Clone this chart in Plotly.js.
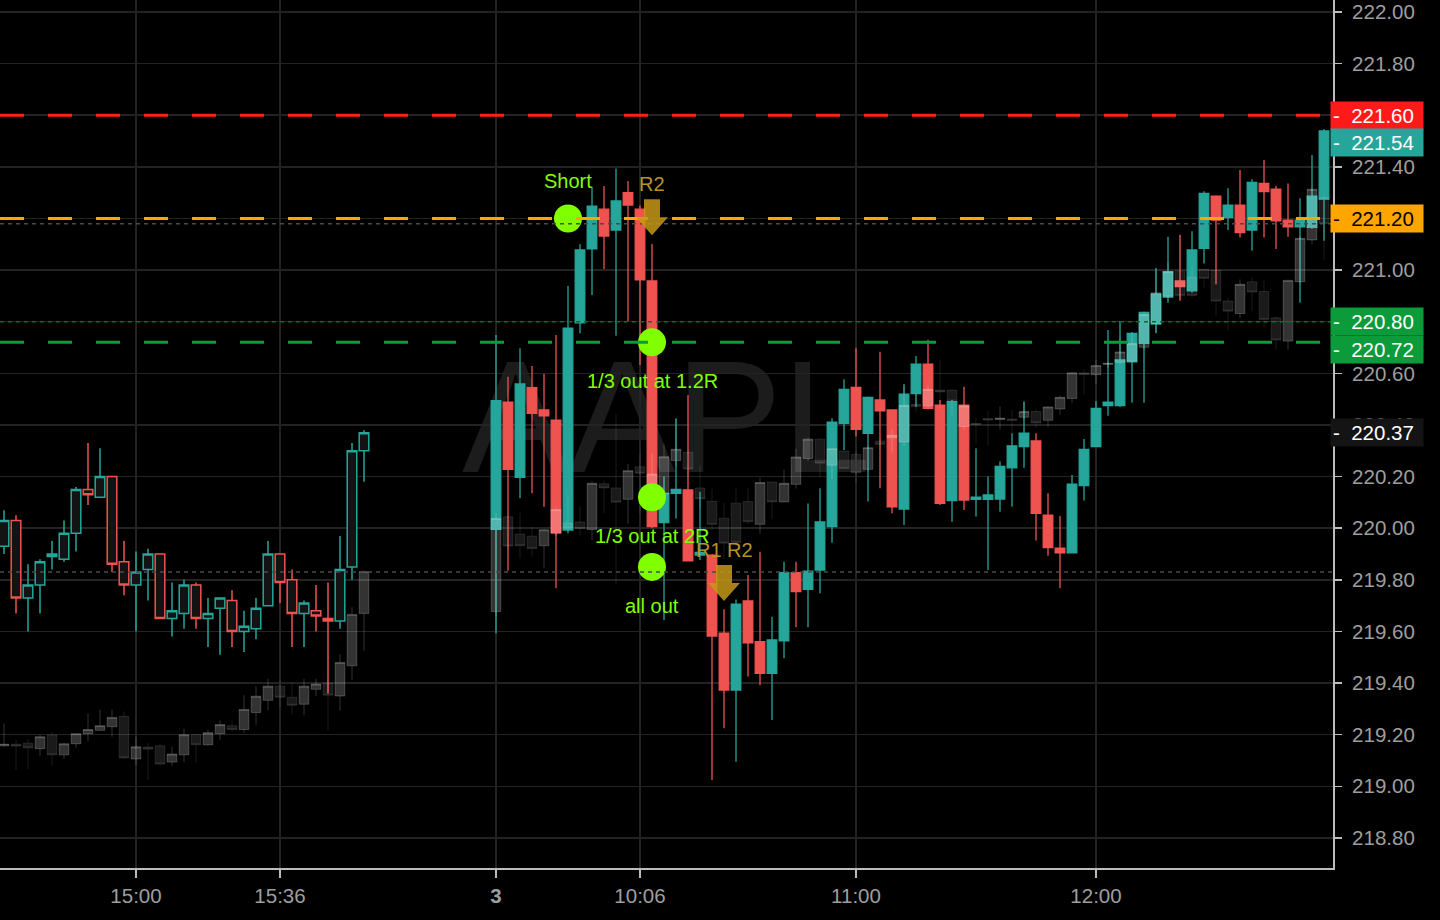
<!DOCTYPE html>
<html><head><meta charset="utf-8">
<script src="https://cdn.plot.ly/plotly-3.0.1.min.js"></script>
<style>html,body{margin:0;padding:0;background:#000;}#chart{width:1440px;height:920px;}</style>
</head><body><div id="chart"></div>
<script>
// ---------- DATA ----------
const symbol = 'AAPL';
// previous session (hollow candles)
const prevTimes = ['14:27','14:30','14:33','14:36','14:39','14:42','14:45','14:48','14:51','14:54','14:57','15:00','15:03','15:06','15:09','15:12','15:15','15:18','15:21','15:24','15:27','15:30','15:33','15:36','15:39','15:42','15:45','15:48','15:51','15:54','15:57'];
const prevOpen  = [219.93,220.03,219.73,219.78,219.89,219.88,219.98,220.15,220.12,220.20,219.87,219.78,219.84,219.90,219.65,219.67,219.78,219.65,219.69,219.72,219.60,219.61,219.70,219.90,219.80,219.67,219.68,219.65,219.64,219.85,220.30];
const prevHigh  = [220.07,220.05,219.86,219.88,219.95,220.03,220.16,220.33,220.31,220.20,219.95,219.91,219.92,219.90,219.79,219.80,219.79,219.73,219.73,219.76,219.68,219.73,219.95,219.90,219.84,219.72,219.78,219.79,219.97,220.33,220.38];
const prevLow   = [219.90,219.67,219.60,219.67,219.84,219.87,219.91,220.09,220.12,219.83,219.74,219.60,219.72,219.65,219.58,219.61,219.61,219.54,219.51,219.54,219.52,219.57,219.70,219.71,219.54,219.54,219.60,219.36,219.61,219.80,220.18];
const prevClose = [220.03,219.73,219.78,219.87,219.90,219.98,220.15,220.13,220.20,219.86,219.78,219.83,219.90,219.65,219.68,219.78,219.65,219.67,219.73,219.60,219.62,219.69,219.90,219.79,219.67,219.71,219.66,219.64,219.84,220.30,220.37];

// current session (filled candles)
const curTimes = ['9:30','9:33','9:36','9:39','9:42','9:45','9:48','9:51','9:54','9:57','10:00','10:03','10:06','10:09','10:12','10:15','10:18','10:21','10:24','10:27','10:30','10:33','10:36','10:39','10:42','10:45','10:48','10:51','10:54','10:57','11:00','11:03','11:06','11:09','11:12','11:15','11:18','11:21','11:24','11:27','11:30','11:33','11:36','11:39','11:42','11:45','11:48','11:51','11:54','11:57','12:00','12:03','12:06','12:09','12:12','12:15','12:18','12:21','12:24','12:27','12:30','12:33','12:36','12:39','12:42','12:45','12:48','12:51','12:54','12:57'];
const curOpen  = [219.996,220.488,220.197,220.545,220.458,220.419,219.993,220.796,221.082,221.236,221.155,221.300,221.236,220.958,220.022,220.135,220.148,219.896,219.896,219.593,219.373,219.718,219.560,219.438,219.564,219.828,219.763,219.838,220.006,220.406,220.546,220.368,220.497,220.458,220.074,220.522,220.636,220.477,220.107,220.477,220.112,220.112,220.113,220.234,220.316,220.338,220.051,219.923,219.905,220.165,220.316,220.475,220.475,220.645,220.716,220.791,220.895,220.958,220.920,221.084,221.287,221.203,221.252,221.155,221.336,221.314,221.194,221.168,221.166,221.275];
const curHigh  = [220.749,220.587,220.697,220.628,220.597,220.749,220.938,221.100,221.323,221.326,221.394,221.345,221.250,221.101,220.201,220.426,220.516,220.141,219.900,219.686,219.724,219.819,219.909,219.657,219.870,219.870,220.096,220.155,220.426,220.577,220.697,220.510,220.684,220.460,220.559,220.667,220.730,220.497,220.497,220.548,220.310,220.200,220.258,220.368,220.490,220.368,220.135,220.047,220.206,220.346,220.493,220.768,220.803,220.760,220.840,221.007,221.129,221.136,221.151,221.306,221.290,221.317,221.388,221.352,221.427,221.326,221.336,221.278,221.446,221.547];
const curLow   = [219.593,219.835,220.116,220.135,220.083,219.767,219.980,220.755,220.904,221.004,220.746,220.803,220.632,220.000,219.644,220.038,219.874,219.877,219.024,219.225,219.095,219.425,219.392,219.257,219.496,219.616,219.616,219.748,219.944,220.303,220.355,220.103,220.155,220.058,220.012,220.471,220.460,220.090,220.025,220.071,220.045,219.838,220.064,220.083,220.234,219.952,219.893,219.767,219.905,220.107,220.316,220.436,220.470,220.486,220.486,220.755,220.874,220.881,220.912,221.026,220.945,221.155,221.126,221.075,221.126,221.082,221.129,220.874,221.160,221.114];
const curClose = [220.494,220.228,220.559,220.445,220.435,219.983,220.775,221.078,221.248,221.132,221.268,221.252,220.962,220.006,220.135,220.150,219.874,219.906,219.582,219.373,219.706,219.556,219.438,219.567,219.828,219.754,219.834,220.024,220.411,220.538,220.383,220.507,220.455,220.083,220.519,220.636,220.464,220.096,220.490,220.109,220.120,220.129,220.239,220.319,220.368,220.058,219.925,219.905,220.171,220.305,220.464,220.488,220.652,220.755,220.836,220.907,220.994,220.936,221.078,221.297,221.194,221.252,221.145,221.340,221.304,221.191,221.168,221.194,221.287,221.539];

// grey overlay series, previous session then current session
const ghostPrevOpen  = [219.157,219.163,219.167,219.146,219.199,219.122,219.165,219.204,219.217,219.231,219.271,219.106,219.152,219.157,219.094,219.122,219.200,219.161,219.204,219.235,219.220,219.286,219.333,219.388,219.345,219.318,219.376,219.400,219.350,219.467,219.670];
const ghostPrevHigh  = [219.243,219.180,219.184,219.199,219.210,219.169,219.205,219.282,219.298,219.298,219.290,219.192,219.169,219.163,219.153,219.224,219.200,219.220,219.255,219.255,219.353,219.388,219.416,219.412,219.400,219.416,219.416,219.412,219.511,219.694,219.836];
const ghostPrevLow   = [219.152,219.063,219.067,219.118,219.080,219.106,219.150,219.176,219.217,219.192,219.106,219.082,219.024,219.078,219.078,219.094,219.090,219.157,219.180,219.212,219.208,219.239,219.294,219.306,219.278,219.275,219.349,219.216,219.293,219.412,219.525];
const ghostPrevClose = [219.163,219.156,219.149,219.192,219.122,219.165,219.204,219.220,219.235,219.267,219.110,219.153,219.144,219.086,219.125,219.200,219.161,219.208,219.239,219.220,219.298,219.349,219.388,219.345,219.314,219.388,219.396,219.353,219.480,219.666,219.832];
const ghostCurOpen  = [219.677,220.044,219.977,219.969,219.932,219.979,220.020,220.024,219.995,220.172,220.156,220.112,220.238,220.100,220.133,220.262,220.294,220.156,220.104,220.039,220.097,220.103,220.015,220.179,220.102,220.170,220.270,220.345,220.244,220.299,220.286,220.228,220.338,220.350,220.334,220.480,220.474,220.535,220.535,220.394,220.406,220.425,220.421,220.423,220.430,220.452,220.418,220.462,220.503,220.602,220.595,220.634,220.643,220.647,220.701,220.793,220.899,220.996,220.972,221.003,220.999,220.880,220.832,220.955,220.917,220.815,220.725,220.955,221.117,221.280];
const ghostCurHigh  = [220.059,220.050,220.062,220.005,219.997,220.080,220.130,220.085,220.182,220.185,220.441,220.249,220.287,220.290,220.326,220.422,220.306,220.242,220.153,220.099,220.157,220.157,220.196,220.180,220.228,220.308,220.351,220.351,220.312,220.306,220.300,220.319,220.351,220.383,220.551,220.525,220.551,220.654,220.540,220.480,220.428,220.454,220.472,220.459,220.494,220.462,220.472,220.514,220.604,220.615,220.654,220.643,220.738,220.757,220.837,221.009,221.029,221.139,221.016,221.003,220.999,220.893,220.964,220.974,220.959,220.822,220.964,221.132,221.320,221.290];
const ghostCurLow   = [219.657,219.920,219.882,219.890,219.844,219.970,219.990,219.973,219.954,220.059,219.783,220.018,220.056,220.080,220.120,220.240,220.200,220.080,219.990,219.880,219.930,220.016,219.977,220.035,220.100,220.154,220.260,220.196,220.190,220.228,220.177,220.220,220.306,220.293,220.319,220.448,220.467,220.461,220.435,220.383,220.325,220.319,220.382,220.369,220.420,220.388,220.395,220.440,220.485,220.518,220.557,220.621,220.634,220.640,220.692,220.757,220.893,220.880,220.893,220.932,220.824,220.767,220.813,220.841,220.779,220.692,220.692,220.950,221.100,221.040];
const ghostCurClose = [220.038,219.931,219.932,219.921,219.994,220.072,220.000,219.999,220.174,220.156,220.101,220.223,220.213,220.210,220.277,220.306,220.229,220.114,220.015,219.942,219.945,220.025,220.177,220.102,220.174,220.276,220.345,220.252,220.308,220.231,220.215,220.312,220.325,220.360,220.476,220.472,220.538,220.528,220.493,220.474,220.403,220.419,220.426,220.418,220.452,220.408,220.470,220.507,220.602,220.595,220.630,220.639,220.683,220.716,220.828,220.912,220.994,220.902,220.902,220.968,220.880,220.841,220.945,220.915,220.809,220.729,220.960,221.123,221.313,221.180];

// x-axis labels
const tickTimes = ['15:00','15:36','9:30','10:06','11:00','12:00'];
const tickSession = ['prev','prev','cur','cur','cur','cur'];
const tickLabels = ['15:00','15:36','<b>3</b>','10:06','11:00','12:00'];

// y-axis labels (values hidden under a price tag get no text)
const priceTicks = [218.80,219.00,219.20,219.40,219.60,219.80,220.00,220.20,220.40,220.60,220.80,221.00,221.20,221.40,221.60,221.80,222.00];
const priceTickText = ['218.80','219.00','219.20','219.40','219.60','219.80','220.00','220.20','220.40','220.60','','221.00','','221.40','','221.80','222.00'];

// trade marks
const tradeTimes  = ['9:48','10:09','10:09','10:09'];
const tradePrices = [221.20, 220.72, 220.12, 219.85];
const tradeLabels = ['Short','1/3 out at 1.2R','1/3 out at 2R','all out'];
const tradeLabelSide = ['above','below','below','below'];

// indicator signals
const signalTimes  = ['10:09','10:27'];
const signalPrices = [221.275, 219.857];
const signalLabels = ['R2','R1 R2'];

// horizontal levels
const levelPrices = [221.60, 221.20, 220.72];
const levelColors = ['#ff1f1f', '#ffa500', '#0b9b3b'];
const dotPrices = [221.18, 220.80, 219.83];
const dotColors = ['#4a4a4a', '#0e6a2e', '#4a4a4a'];

// price tags on the right scale
const tagPrices = [221.60, 221.54, 221.20, 220.80, 220.72, 220.37];
const tagBg     = ['#ff1a1a', '#26a69a', '#ffa500', '#0b9b3b', '#0b9b3b', '#141414'];
const tagFg     = ['#ffffff', '#ffffff', '#000000', '#ffffff', '#ffffff', '#ffffff'];
const tagShift  = [0, -12, 0, 0, -7, 0];

// ---------- BUILD ----------
const GAP = 10; // empty slots between sessions
const prevX = prevTimes.map((t, i) => i);
const curX = curTimes.map((t, i) => prevTimes.length + GAP + i);
const xOf = (t, s) => s === 'prev' ? prevX[prevTimes.indexOf(t)] : curX[curTimes.indexOf(t)];

const TEAL = '#26a69a', RED = '#ef5350', LIME = '#80ff00';
const FONT = 'Liberation Sans, Arial, sans-serif';

const traces = [
  {
    type: 'candlestick', x: prevX, open: prevOpen, high: prevHigh, low: prevLow, close: prevClose,
    increasing: {line: {color: TEAL, width: 1.5}, fillcolor: '#131313'},
    decreasing: {line: {color: RED, width: 1.5}, fillcolor: '#131313'},
    whiskerwidth: 0, hoverinfo: 'skip', showlegend: false
  },
  {
    type: 'candlestick', x: curX, open: curOpen, high: curHigh, low: curLow, close: curClose,
    increasing: {line: {color: TEAL, width: 1.3}, fillcolor: TEAL},
    decreasing: {line: {color: RED, width: 1.3}, fillcolor: RED},
    whiskerwidth: 0, hoverinfo: 'skip', showlegend: false
  },
  {
    type: 'candlestick', x: prevX.concat(curX),
    open: ghostPrevOpen.concat(ghostCurOpen), high: ghostPrevHigh.concat(ghostCurHigh),
    low: ghostPrevLow.concat(ghostCurLow), close: ghostPrevClose.concat(ghostCurClose),
    increasing: {line: {color: 'rgba(255,255,255,0.2)', width: 1}, fillcolor: 'rgba(255,255,255,0.2)'},
    decreasing: {line: {color: 'rgba(255,255,255,0.1)', width: 1}, fillcolor: 'rgba(255,255,255,0.1)'},
    whiskerwidth: 0, hoverinfo: 'skip', showlegend: false
  },
  {
    type: 'scatter', mode: 'markers',
    x: tradeTimes.map(t => xOf(t, 'cur')), y: tradePrices,
    marker: {size: 28, color: LIME}, hoverinfo: 'skip', showlegend: false
  }
];

const shapes = [];
shapes.push({
  type: 'rect', xref: 'paper', yref: 'paper', x0: 0, x1: 1, y0: 0.437, y1: 0.637,
  line: {width: 0}, fillcolor: 'rgba(0,0,0,0)', layer: 'below',
  label: {text: symbol, textposition: 'middle center', font: {size: 160, color: '#1c1c1c', family: FONT}}
});
dotPrices.forEach((p, i) => shapes.push({
  type: 'line', xref: 'paper', x0: 0, x1: 1, yref: 'y', y0: p, y1: p,
  line: {color: dotColors[i], width: 1.5, dash: '4px,4px'}
}));
levelPrices.forEach((p, i) => shapes.push({
  type: 'line', xref: 'paper', x0: 0, x1: 1, yref: 'y', y0: p, y1: p,
  line: {color: levelColors[i], width: 3, dash: '24px,24px'}
}));
signalTimes.forEach((t, i) => shapes.push({
  type: 'path', xref: 'x', yref: 'y', xsizemode: 'pixel', ysizemode: 'pixel',
  xanchor: xOf(t, 'cur'), yanchor: signalPrices[i],
  path: 'M -8 0 L 8 0 L 8 -18 L 16 -18 L 0 -36 L -16 -18 L -8 -18 Z',
  fillcolor: 'rgba(196,152,24,0.85)', line: {width: 0}
}));

const annotations = [];
tradeTimes.forEach((t, i) => annotations.push({
  xref: 'x', yref: 'y', x: xOf(t, 'cur'), y: tradePrices[i],
  yshift: tradeLabelSide[i] === 'above' ? 37 : -39, showarrow: false,
  text: tradeLabels[i], font: {color: LIME, size: 20, family: FONT}
}));
signalTimes.forEach((t, i) => annotations.push({
  xref: 'x', yref: 'y', x: xOf(t, 'cur'), y: signalPrices[i],
  yshift: 15, showarrow: false, text: signalLabels[i],
  font: {color: '#b8922a', size: 20, family: FONT}
}));
tagPrices.forEach((p, i) => annotations.push({
  xref: 'paper', x: 1, xanchor: 'left', yref: 'y', y: p, yanchor: 'middle', yshift: tagShift[i],
  showarrow: false, align: 'left', width: 88, height: 23, borderpad: 2, bgcolor: tagBg[i],
  text: '-&nbsp;&nbsp;' + p.toFixed(2), font: {color: tagFg[i], size: 20.5, family: FONT}, xshift: -3
}));

const layout = {
  width: 1440, height: 920,
  paper_bgcolor: '#000000', plot_bgcolor: '#000000',
  margin: {l: 0, r: 107, t: 0, b: 52, pad: 0},
  showlegend: false, boxmode: 'overlay', boxgap: 0.2, boxgroupgap: 0,
  font: {family: FONT, color: '#9a9a9a'},
  xaxis: {
    range: [-0.333, 110.75], rangeslider: {visible: false}, fixedrange: true,
    tickmode: 'array', tickvals: tickTimes.map((t, i) => xOf(t, tickSession[i])), ticktext: tickLabels,
    showgrid: true, gridcolor: '#232323', gridwidth: 1.5, zeroline: false,
    showline: true, linecolor: '#bcbcbc', linewidth: 2,
    ticks: 'outside', ticklen: 8, tickcolor: '#bcbcbc', tickwidth: 1.5,
    tickfont: {size: 20.5, color: '#9e9e9e', family: FONT}, ticklabelstandoff: 0
  },
  yaxis: {
    side: 'right', range: [218.6835, 222.0465], fixedrange: true,
    tickmode: 'array', tickvals: priceTicks, ticktext: priceTickText,
    showgrid: true, gridcolor: '#232323', gridwidth: 1.5, zeroline: false,
    showline: true, linecolor: '#bcbcbc', linewidth: 2,
    ticks: 'outside', ticklen: 7, tickcolor: '#bcbcbc', tickwidth: 1.5,
    tickfont: {size: 20.5, color: '#9e9e9e', family: FONT}, ticklabelstandoff: 6
  },
  shapes: shapes, annotations: annotations
};

Plotly.newPlot('chart', traces, layout, {displayModeBar: false, staticPlot: true});
</script></body></html>
